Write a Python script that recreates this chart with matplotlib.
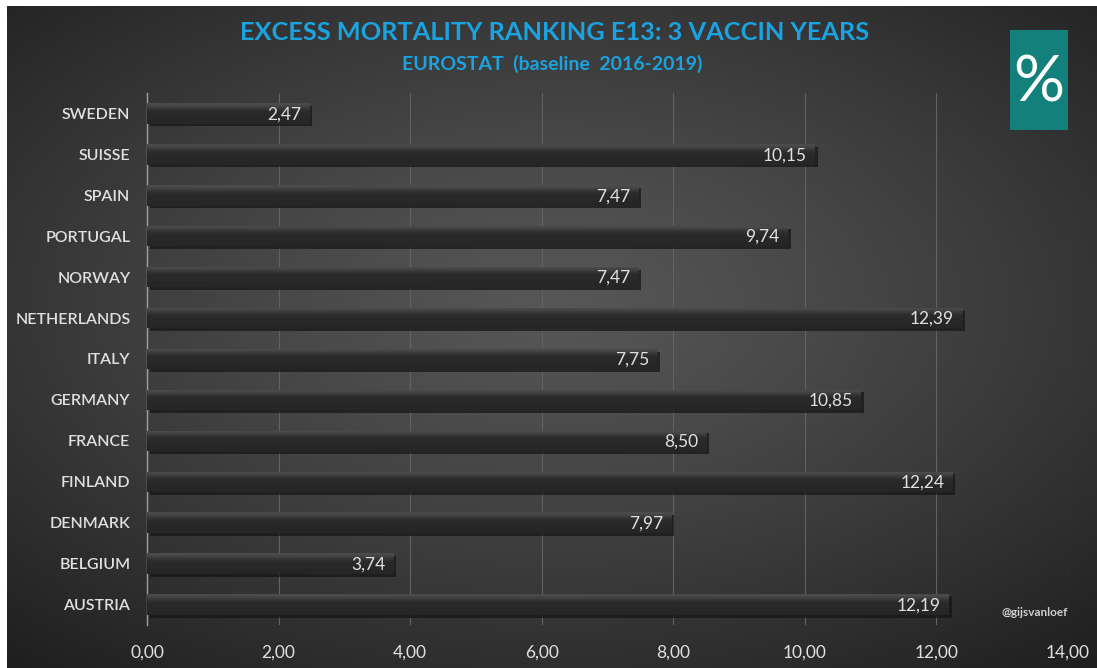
import numpy as np
import matplotlib.pyplot as plt
from matplotlib import patheffects as pe
from matplotlib.patches import Rectangle

countries = ["SWEDEN", "SUISSE", "SPAIN", "PORTUGAL", "NORWAY", "NETHERLANDS", "ITALY",
             "GERMANY", "FRANCE", "FINLAND", "DENMARK", "BELGIUM", "AUSTRIA"]
excess = [2.47, 10.15, 7.47, 9.74, 7.47, 12.39, 7.75, 10.85, 8.50, 12.24, 7.97, 3.74, 12.19]
xticks = [0, 2, 4, 6, 8, 10, 12, 14]

title = "EXCESS MORTALITY RANKING E13: 3 VACCIN YEARS"
subtitle = "EUROSTAT  (baseline  2016-2019)"
credit = "@gijsvanloef"

FONT = "Lato"
TXT = "#e0e0e0"


def comma(v):
    return "{:.2f}".format(v).replace(".", ",")


fig = plt.figure(figsize=(10.97, 6.68), dpi=100, facecolor="white")

# radial gradient background
bg = fig.add_axes([7 / 1097, 0, 1 - 7 / 1097, 662 / 668])
xx, yy = np.meshgrid(np.linspace(-1, 1, 400), np.linspace(-1, 1, 300))
r = np.sqrt((xx * 0.9) ** 2 + ((yy + 0.1) * 0.95) ** 2)
shade = np.clip(0.34 - 0.15 * r ** 1.2, 0.12, 0.34)
bg.imshow(np.dstack([shade] * 3), aspect="auto", extent=[0, 1, 0, 1], interpolation="bicubic")
bg.set_axis_off()

ax = fig.add_axes([147 / 1097, 43 / 668, (1068 - 147) / 1097, (575 - 43) / 668])
ax.set_facecolor("none")
y = np.arange(len(countries))

bars = ax.barh(y, excess, height=0.5, color="#2a2a2a", zorder=3)
# vertical shading inside each bar: lighter top, dark lower half
grad = np.array([0.30, 0.27, 0.22, 0.18, 0.165, 0.16, 0.16, 0.155, 0.15, 0.15])[:, None]
grad_rgb = np.dstack([grad] * 3)
for b in bars:
    b.set_path_effects([pe.SimplePatchShadow(offset=(2, -2), shadow_rgbFace="#141414", alpha=0.7),
                        pe.Normal()])
    x0, y0 = b.get_x(), b.get_y()
    w, h = b.get_width(), b.get_height()
    im = ax.imshow(grad_rgb, extent=[x0, x0 + w, y0, y0 + h], aspect="auto",
                   interpolation="bicubic", zorder=4, origin="lower")
    im.set_clip_path(b)

for yi, v in zip(y, excess):
    ax.text(v - 0.12, yi + 0.02, comma(v), ha="right", va="center", color=TXT,
            fontsize=12.5, family=FONT, zorder=5)

ax.set_xlim(0, 14)
ax.set_ylim(len(countries) - 0.5, -0.5)
ax.set_aspect("auto")
ax.set_xticks(xticks)
ax.set_xticklabels([comma(t) for t in xticks], color=TXT, fontsize=12.5, family=FONT)
ax.set_yticks(y)
ax.set_yticklabels(countries, color=TXT, fontsize=11.5, family=FONT, fontweight="semibold")
ax.tick_params(length=0, pad=12)
ax.tick_params(axis="x", pad=14)
ax.grid(axis="x", color="#626262", linewidth=0.8, zorder=0)
for s in ["top", "right", "bottom"]:
    ax.spines[s].set_visible(False)
ax.spines["left"].set_color("#a0a0a0")
ax.spines["left"].set_linewidth(1.0)

fig.text(555 / 1097, 1 - 33 / 668, title, ha="center", va="center", color="#1aa3e0",
         fontsize=18.3, fontweight="bold", family=FONT)
fig.text(552 / 1097, 1 - 64 / 668, subtitle, ha="center", va="center", color="#1aa3e0",
         fontsize=14, fontweight="bold", family=FONT)

fig.patches.append(Rectangle((1010 / 1097, 1 - 130 / 668), 58 / 1097, 100 / 668,
                             transform=fig.transFigure, facecolor="#13807c", edgecolor="none"))
fig.text(1039 / 1097, 1 - 83 / 668, "%", ha="center", va="center", color="white",
         fontsize=46, family=FONT)

fig.text(1035 / 1097, 1 - 613 / 668, credit, ha="center", va="center", color="#d0d0d0",
         fontsize=8.5, fontweight="bold", family=FONT)

fig.savefig("out.png", dpi=100, facecolor=fig.get_facecolor())
